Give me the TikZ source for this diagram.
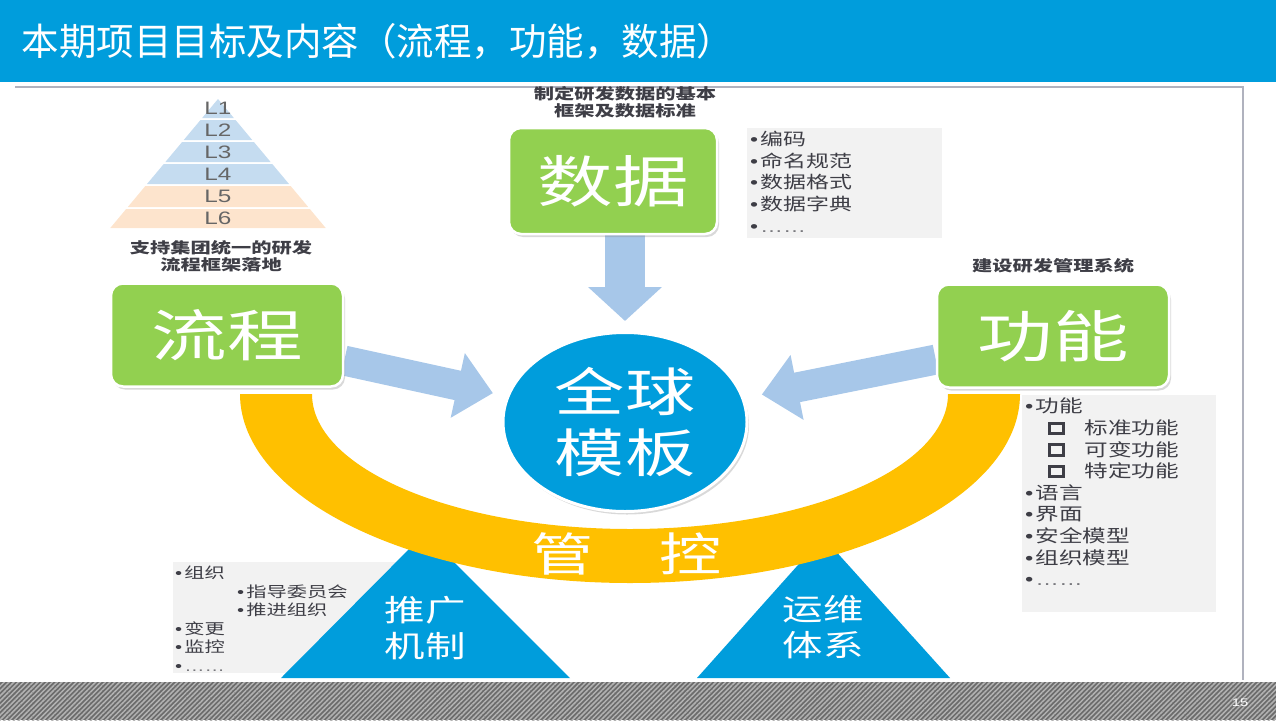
\documentclass[tikz,border=0pt]{standalone}
\usepackage{fontspec}
\setmainfont{Noto Sans CJK SC}
\newfontfamily\cnfont[FakeStretch=1.35]{Noto Sans CJK SC}
\newfontfamily\latfont[FakeStretch=1.35]{Liberation Sans}
\usepackage{xcolor}
\usepackage{tikz}
\usetikzlibrary{arrows.meta,positioning,shapes.geometric,shadows,patterns.meta,backgrounds}
\definecolor{hdblue}{RGB}{0,157,220}
\definecolor{boxgreen}{RGB}{146,208,80}
\definecolor{arrowblue}{RGB}{167,199,233}
\definecolor{ringgold}{RGB}{255,192,0}
\definecolor{notegray}{RGB}{242,242,242}
\definecolor{inkgray}{RGB}{62,62,70}
\definecolor{pyrblue}{RGB}{197,220,240}
\definecolor{pyrpeach}{RGB}{253,228,205}
\definecolor{framegray}{RGB}{176,178,190}
\newcommand{\itm}{{\latfont\textbullet}\hspace{2pt}}
\newcommand{\sqitm}{\raisebox{2.5pt}{\setlength\fboxsep{0pt}\setlength\fboxrule{3pt}\fbox{\rule{0pt}{7.5pt}\rule{10.5pt}{0pt}}}}
\newcommand{\dotrow}{{\latfont\color{inkgray!70}……}}
\tikzset{
  modbox/.style={
    draw=white,
    line width=2.5pt,
    fill=boxgreen,
    rounded corners=12pt,
    minimum width=232pt,
    minimum height=103pt,
    text=white,
    font=\cnfont\fontsize{56}{60}\selectfont,
    drop shadow={shadow xshift=2pt,shadow yshift=-3pt,opacity=0.3}
  },
  hub/.style={
    ellipse,
    draw=white,
    line width=3pt,
    fill=hdblue,
    minimum width=244pt,
    minimum height=179pt,
    inner sep=0pt,
    align=center,
    text=white,
    font=\cnfont\fontsize{52}{61}\selectfont,
    drop shadow={shadow xshift=2pt,shadow yshift=-3pt,opacity=0.3}
  },
  capt/.style={
    align=center,
    inner sep=0pt,
    text=inkgray,
    font=\cnfont\bfseries\fontsize{15}{17}\selectfont
  },
  notes/.style={
    anchor=north west,
    align=left,
    inner sep=0pt,
    text=inkgray,
    font=\cnfont\fontsize{17}{21.7}\selectfont
  },
  notebg/.style={fill=notegray},
  tritext/.style={
    align=center,
    text=white,
    font=\cnfont\fontsize{30}{36}\selectfont
  },
  levlabel/.style={
    inner sep=0pt,
    text=black!60,
    font=\latfont\fontsize{18}{20}\selectfont
  },
  flowarrow/.style={draw=arrowblue,line width=30pt,-{Triangle[length=36pt,width=64pt]}},
  downarrow/.style={draw=arrowblue,line width=40pt,-{Triangle[length=34pt,width=72pt]}}
}

\begin{document}
\begin{tikzpicture}[x=1pt,y=-1pt]
  \useasboundingbox (0,0) rectangle (1276,720);
  \fill[hdblue] (0,0) rectangle (1276,82);
  \node[anchor=west,text=white,font=\fontsize{37.5}{40}\selectfont] (title) at (18,41)
    {本期项目目标及内容（流程，功能，数据）};
  \draw[framegray,line width=1.5pt] (15,87) -- (1243,87) -- (1243,680);
  \fill[black!58] (0,682) rectangle (1276,720);
  \fill[pattern={Lines[angle=45,distance=3.4pt,line width=1.5pt]},pattern color=black!30] (0,682) rectangle (1276,720);
  \node[text=white,font=\latfont\fontsize{11}{12}\selectfont] (pagenum) at (1240,703) {15};

  \foreach \ya/\yb/\col/\lab in {99/118/pyrblue/L1,120/140/pyrblue/L2,142/162/pyrblue/L3,
                                 164/184/pyrblue/L4,186/207/pyrpeach/L5,209/228/pyrpeach/L6}{
    \pgfmathsetmacro\wa{(\ya-99)*0.835}
    \pgfmathsetmacro\wb{(\yb-99)*0.835}
    \fill[\col] (218-\wa,\ya) -- (218+\wa,\ya) -- (218+\wb,\yb) -- (218-\wb,\yb) -- cycle;
    \node[levlabel] (\lab) at (218,{(\ya+\yb)/2}) {\lab};
  }

  \fill[notebg] (747,128) rectangle (942,238);
  \fill[notebg] (1022,395) rectangle (1216,612);
  \fill[notebg] (173,562) rectangle (400,673);

  \fill[hdblue] (281,678) -- (425,533) -- (570,678) -- cycle;
  \fill[hdblue] (697,678) -- (823,537) -- (950,678) -- cycle;
  \node[tritext] (tuiguang) at (425,628) {推广\\机制};
  \node[tritext] (yunwei) at (823,627) {运维\\体系};

  \begin{scope}
    \clip (0,394) rectangle (1276,720);
    \fill[ringgold,even odd rule] (630,394) ellipse [x radius=390pt,y radius=189pt]
                                  (630,394) ellipse [x radius=318pt,y radius=135pt];
  \end{scope}
  \node[text=white,font=\cnfont\fontsize{46}{50}\selectfont] (guankong) at (627,554)
    {管\hspace{66pt}控};

  \node[modbox] (liucheng) at (227,335) {流程};
  \node[modbox,minimum width=208pt,minimum height=106pt] (shuju) at (613,181) {数据};
  \node[modbox] (gongneng) at (1053,336) {功能};
  \node[hub] (quanqiu) at (625,422) {全球\\模板};

  \node[capt,above=10pt of liucheng,xshift=-6pt] (liuchengcap) {支持集团统一的研发\\流程框架落地};
  \node[capt,above=9pt of shuju,xshift=12pt] (shujucap) {制定研发数据的基本\\框架及数据标准};
  \node[capt,above=10pt of gongneng] (gongnengcap) {建设研发管理系统};

  \node[notes] (shujunotes) at (750,131) {
    \itm 编码\\
    \itm 命名规范\\
    \itm 数据格式\\
    \itm 数据字典\\
    \itm\dotrow
  };
  \node[notes,font=\cnfont\fontsize{17.5}{21.6}\selectfont] (gongnengnotes) at (1025,398) {
    \itm 功能\\
    \hspace*{23pt}\sqitm\hspace{20pt}标准功能\\
    \hspace*{23pt}\sqitm\hspace{20pt}可变功能\\
    \hspace*{23pt}\sqitm\hspace{20pt}特定功能\\
    \itm 语言\\
    \itm 界面\\
    \itm 安全模型\\
    \itm 组织模型\\
    \itm\dotrow
  };
  \node[notes,font=\cnfont\fontsize{15}{18.5}\selectfont] (tuiguangnotes) at (175,566) {
    \itm 组织\\
    \hspace*{62pt}\itm 指导委员会\\
    \hspace*{62pt}\itm 推进组织\\
    \itm 变更\\
    \itm 监控\\
    \itm\dotrow
  };

  \begin{scope}[on background layer]
    \draw[flowarrow,shorten >=14pt] (liucheng) -- (quanqiu);
    \draw[flowarrow,shorten >=18pt] (gongneng) -- (quanqiu);
    \draw[downarrow,shorten >=10pt] (shuju.south -| quanqiu.north) -- (quanqiu.north);
  \end{scope}
\end{tikzpicture}
\end{document}
